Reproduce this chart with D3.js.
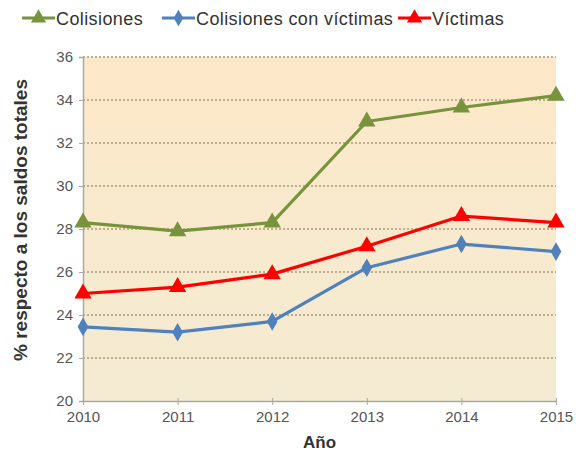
<!DOCTYPE html>
<html>
<head>
<meta charset="utf-8">
<script src="https://cdn.jsdelivr.net/npm/d3@7"></script>
<style>
  body { margin: 0; background: #fff; }
  text { font-family: "Liberation Sans", Arial, sans-serif; }
</style>
</head>
<body>
<div id="chart"></div>
<script>
const years = [2010, 2011, 2012, 2013, 2014, 2015],
      colisiones = [28.3, 27.9, 28.3, 33.0, 33.65, 34.2],
      colisionesVictimas = [23.45, 23.2, 23.7, 26.2, 27.3, 26.95],
      victimas = [25.0, 25.3, 25.9, 27.2, 28.6, 28.3],
      yTicks = [20, 22, 24, 26, 28, 30, 32, 34, 36];

const series = [
  {name: "Colisiones", values: colisiones, color: "#77933c", marker: "triangle", lx: 22},
  {name: "Colisiones con víctimas", values: colisionesVictimas, color: "#4f81bd", marker: "diamond", lx: 162},
  {name: "Víctimas", values: victimas, color: "#ff0000", marker: "triangle", lx: 398}
];

const WIDTH = 576, HEIGHT = 457,
      margin = {top: 57, right: 20, bottom: 56, left: 83};

const svg = d3.select("#chart").append("svg")
  .attr("width", WIDTH)
  .attr("height", HEIGHT);

const x = d3.scalePoint().domain(years).range([margin.left, WIDTH - margin.right]),
      y = d3.scaleLinear().domain([20, 36]).range([HEIGHT - margin.bottom, margin.top]);

// background gradient
let grad = svg.append("defs").append("linearGradient")
  .attr("id", "bg")
  .attr("x1", 0).attr("y1", 0).attr("x2", 0).attr("y2", 1);
grad.append("stop").attr("offset", "0%").attr("stop-color", "#fde8c8");
grad.append("stop").attr("offset", "100%").attr("stop-color", "#f3ebd2");

svg.append("rect")
  .attr("x", margin.left)
  .attr("y", margin.top)
  .attr("width", WIDTH - margin.right - margin.left)
  .attr("height", HEIGHT - margin.bottom - margin.top)
  .attr("fill", "url(#bg)");

// gridlines
svg.append("g")
  .selectAll("line")
  .data(yTicks.filter(t => t > 20))
  .join("line")
  .attr("x1", margin.left)
  .attr("x2", WIDTH - margin.right)
  .attr("y1", d => y(d))
  .attr("y2", d => y(d))
  .attr("stroke", "#bfae93")
  .attr("stroke-width", 1.8)
  .attr("stroke-dasharray", "2,2");

// y axis
let yAxis = svg.append("g")
  .attr("transform", "translate(" + margin.left + ",0)")
  .call(d3.axisLeft(y).tickValues(yTicks).tickSize(4).tickPadding(6));
yAxis.select(".domain").attr("stroke", "#a8a8a8").attr("stroke-width", 1.5);
yAxis.selectAll(".tick line").attr("stroke", "#a8a8a8");
yAxis.selectAll("text").attr("font-size", 15).attr("fill", "#555");

// x axis
let xAxis = svg.append("g")
  .attr("transform", "translate(0," + (HEIGHT - margin.bottom) + ")")
  .call(d3.axisBottom(x).tickSize(4).tickPadding(6).tickSizeOuter(0));
xAxis.select(".domain").attr("stroke", "#a8a8a8").attr("stroke-width", 1.5);
xAxis.selectAll(".tick line").attr("stroke", "#a8a8a8").attr("y1", -3);
xAxis.selectAll("text").attr("font-size", 15).attr("fill", "#555");

// axis titles
svg.append("text")
  .attr("x", x(2012) + (x(2013) - x(2012)) / 2)
  .attr("y", 448)
  .attr("text-anchor", "middle")
  .attr("font-size", 17)
  .attr("font-weight", "bold")
  .attr("fill", "#333")
  .text("Año");

svg.append("text")
  .attr("transform", "translate(27," + 220 + ") rotate(-90)")
  .attr("text-anchor", "middle")
  .attr("font-size", 19)
  .attr("font-weight", "bold")
  .attr("fill", "#333")
  .text("% respecto a los saldos totales");

// lines + markers
let line = d3.line()
  .x((d, i) => x(years[i]))
  .y(d => y(d));

let symbolFor = m => m == "triangle" ? d3.symbolTriangle : d3.symbolDiamond;

series.forEach(s => {
  svg.append("path")
    .attr("d", line(s.values))
    .attr("fill", "none")
    .attr("stroke", s.color)
    .attr("stroke-width", 3.2)
    .attr("stroke-linejoin", "round");

  svg.append("g")
    .selectAll("path")
    .data(s.values)
    .join("path")
    .attr("transform", (d, i) => "translate(" + x(years[i]) + "," + y(d) + ")")
    .attr("d", d3.symbol().type(symbolFor(s.marker)).size(s.marker == "triangle" ? 130 : 100))
    .attr("fill", s.color);

  // legend entry
  let lg = svg.append("g").attr("transform", "translate(" + s.lx + ",18)");
  lg.append("line")
    .attr("x1", 0).attr("x2", 33)
    .attr("stroke", s.color)
    .attr("stroke-width", 3);
  lg.append("path")
    .attr("transform", "translate(16.5,0)")
    .attr("d", d3.symbol().type(symbolFor(s.marker)).size(s.marker == "triangle" ? 100 : 80))
    .attr("fill", s.color);
  lg.append("text")
    .attr("x", 34)
    .attr("y", 6.5)
    .attr("font-size", 18)
    .attr("letter-spacing", 0.4)
    .attr("fill", "#333")
    .text(s.name);
});
</script>
</body>
</html>
